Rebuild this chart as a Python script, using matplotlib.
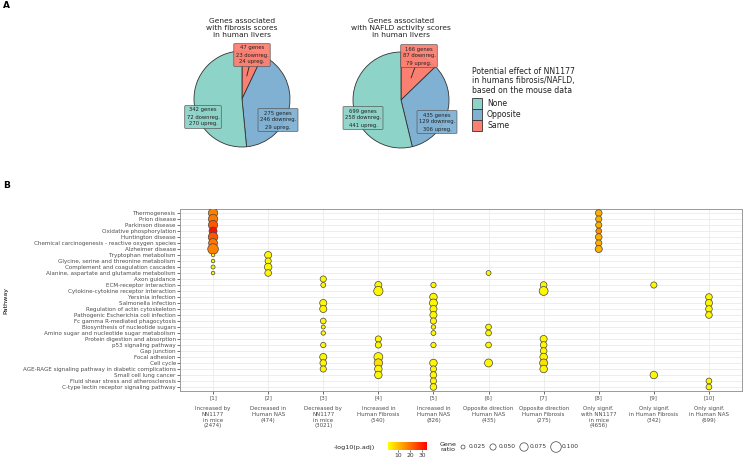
import numpy as np
import matplotlib
matplotlib.use("Agg")
import matplotlib.pyplot as plt
from matplotlib.colors import LinearSegmentedColormap
from matplotlib.patches import Rectangle

# ---- panel A data ----
effects = ["None", "Opposite", "Same"]
effect_colors = ["#8DD3C7", "#80B1D3", "#FB8072"]
fib_genes = [342, 275, 47]
fib_down = [72, 246, 23]
fib_up = [270, 29, 24]
nas_genes = [699, 435, 166]
nas_down = [258, 129, 87]
nas_up = [441, 306, 79]

# ---- panel B data ----
pathways = [
    "Thermogenesis", "Prion disease", "Parkinson disease", "Oxidative phosphorylation",
    "Huntington disease", "Chemical carcinogenesis - reactive oxygen species",
    "Alzheimer disease", "Tryptophan metabolism", "Glycine, serine and threonine metabolism",
    "Complement and coagulation cascades", "Alanine, aspartate and glutamate metabolism",
    "Axon guidance", "ECM-receptor interaction", "Cytokine-cytokine receptor interaction",
    "Yersinia infection", "Salmonella infection", "Regulation of actin cytoskeleton",
    "Pathogenic Escherichia coli infection", "Fc gamma R-mediated phagocytosis",
    "Biosynthesis of nucleotide sugars", "Amino sugar and nucleotide sugar metabolism",
    "Protein digestion and absorption", "p53 signaling pathway", "Gap junction",
    "Focal adhesion", "Cell cycle", "AGE-RAGE signaling pathway in diabetic complications",
    "Small cell lung cancer", "Fluid shear stress and atherosclerosis",
    "C-type lectin receptor signaling pathway",
]
group_labels = [
    "[1]\n\nIncreased by\nNN1177\nin mice\n(2474)",
    "[2]\n\nDecreased in\nHuman NAS\n(474)",
    "[3]\n\nDecreased by\nNN1177\nin mice\n(3021)",
    "[4]\n\nIncreased in\nHuman Fibrosis\n(540)",
    "[5]\n\nIncreased in\nHuman NAS\n(826)",
    "[6]\n\nOpposite direction\nHuman NAS\n(435)",
    "[7]\n\nOpposite direction\nHuman Fibrosis\n(275)",
    "[8]\n\nOnly signif.\nwith NN1177\nin mice\n(4656)",
    "[9]\n\nOnly signif.\nin Human Fibrosis\n(342)",
    "[10]\n\nOnly signif.\nin Human NAS\n(699)",
]

# group number, pathway row (1-based), gene ratio, -log10(p.adj)
dot_group = ([1] * 11 + [2] * 4 + [3] * 11 + [4] * 8 + [5] * 14 + [6] * 5
             + [7] * 8 + [8] * 7 + [9] * 2 + [10] * 6)
dot_row = ([1, 2, 3, 4, 5, 6, 7, 8, 9, 10, 11]
           + [8, 9, 10, 11]
           + [12, 13, 16, 17, 19, 20, 21, 23, 25, 26, 27]
           + [13, 14, 22, 23, 25, 26, 27, 28]
           + [13, 15, 16, 17, 18, 19, 20, 21, 23, 26, 27, 28, 29, 30]
           + [11, 20, 21, 23, 26]
           + [13, 14, 22, 23, 24, 25, 26, 27]
           + [1, 2, 3, 4, 5, 6, 7]
           + [13, 28]
           + [15, 16, 17, 18, 29, 30])
dot_ratio = ([0.085, 0.085, 0.085, 0.07, 0.088, 0.08, 0.1, 0.02, 0.02, 0.025, 0.02]
             + [0.06, 0.05, 0.065, 0.055]
             + [0.05, 0.035, 0.06, 0.06, 0.045, 0.025, 0.03, 0.04, 0.06, 0.055, 0.05]
             + [0.06, 0.085, 0.05, 0.05, 0.08, 0.075, 0.065, 0.065]
             + [0.04, 0.065, 0.07, 0.06, 0.06, 0.05, 0.03, 0.035, 0.04, 0.065, 0.05,
                0.055, 0.05, 0.055]
             + [0.035, 0.045, 0.045, 0.045, 0.07]
             + [0.055, 0.08, 0.06, 0.055, 0.055, 0.065, 0.07, 0.065]
             + [0.055, 0.05, 0.05, 0.045, 0.055, 0.05, 0.06]
             + [0.05, 0.065]
             + [0.055, 0.06, 0.055, 0.055, 0.045, 0.045])
dot_logp = ([18, 19, 23, 32, 23, 19, 18, 3, 3, 3, 3]
            + [3, 3, 3, 3]
            + [3, 3, 3, 3, 3, 3, 3, 3, 3, 3, 3]
            + [3, 3, 3, 3, 3, 6, 3, 3]
            + [3, 3, 3, 3, 3, 3, 3, 3, 3, 3, 3, 3, 3, 3]
            + [3, 3, 3, 3, 3]
            + [3, 3, 3, 3, 3, 3, 6, 3]
            + [12, 12, 12, 16, 12, 12, 12]
            + [3, 3]
            + [3, 3, 3, 3, 3, 3])
legend_ratios = [0.025, 0.05, 0.075, 0.1]

W, H = 745, 459
fig = plt.figure(figsize=(W / 100, H / 100), dpi=100)


def box(x0, y0, x1, y1):
    # pixel box (top-left origin) -> figure fraction rect
    return [x0 / W, 1 - y1 / H, (x1 - x0) / W, (y1 - y0) / H]


def dot_size(r):
    d_px = 1.8 + 88 * np.asarray(r)
    return (d_px * 0.72) ** 2


over = fig.add_axes([0, 0, 1, 1])
over.set_xlim(0, W)
over.set_ylim(H, 0)
over.axis("off")
over.set_zorder(10)

over.text(3, 6, "A", fontsize=6.5, fontweight="bold", va="center")
over.text(3, 186, "B", fontsize=6.5, fontweight="bold", va="center")

# ---- panel A: pies ----
pies = [
    (242, 99, "Genes associated\nwith fibrosis scores\nin human livers",
     fib_genes, fib_down, fib_up,
     [(203, 117), (278, 120), (252, 55)], (0.10, 0.48)),
    (401, 100, "Genes associated\nwith NAFLD activity scores\nin human livers",
     nas_genes, nas_down, nas_up,
     [(363, 118), (437, 122), (419, 56)], (0.21, 0.46)),
]
R = 48
for cx, cy, title, genes, down, up, lab_pos, same_pt in pies:
    pax = fig.add_axes(box(cx - R, cy - R, cx + R, cy + R))
    pax.pie(genes[::-1], colors=effect_colors[::-1], startangle=90, counterclock=False,
            radius=1, wedgeprops=dict(edgecolor="#333333", linewidth=0.6))
    pax.set_xlim(-1, 1)
    pax.set_ylim(-1, 1)
    pax.axis("off")
    over.text(cx, 28, title, ha="center", va="center", fontsize=5.4, linespacing=1.15,
              color="#222222")
    for i in range(3):
        txt = f"{genes[i]} genes\n{down[i]} downreg.\n{up[i]} upreg."
        bb = dict(boxstyle="round,pad=0.35,rounding_size=0.15", fc=effect_colors[i],
                  ec="#555555", lw=0.5, alpha=0.95)
        lx, ly = lab_pos[i]
        if effects[i] == "Same":
            # line from the label box into the "Same" wedge
            px = cx + same_pt[0] * R
            py = cy - same_pt[1] * R
            over.annotate(txt, xy=(px, py), xytext=(lx, ly),
                          ha="center", va="center",
                          fontsize=3.8, linespacing=1.5, color="#222222", bbox=bb,
                          arrowprops=dict(arrowstyle="-", lw=0.6, color="#222222",
                                          shrinkA=0, shrinkB=0))
        else:
            over.text(lx, ly, txt, ha="center", va="center", fontsize=3.8,
                      linespacing=1.5, color="#222222", bbox=bb)

over.text(472, 81, "Potential effect of NN1177\nin humans fibrosis/NAFLD,\nbased on the mouse data",
          ha="left", va="center", fontsize=5.6, linespacing=1.1, color="#222222")
for i, eff in enumerate(effects):
    y0 = 98 + i * 11.2
    over.add_patch(Rectangle((472, y0), 10, 10.5, fc=effect_colors[i], ec="#333333", lw=0.6))
    over.text(487, y0 + 5.3, eff, ha="left", va="center", fontsize=5.6, color="#222222")

# ---- panel B: dot plot ----
cmap = LinearSegmentedColormap.from_list("yr", ["#FFFF00", "#FF8000", "#FF0000"])
ax = fig.add_axes(box(180, 209, 742, 391))
sc = ax.scatter(dot_group, dot_row, s=dot_size(dot_ratio), c=dot_logp, cmap=cmap,
                vmin=2, vmax=34, edgecolors="#444444", linewidths=0.5, zorder=3)
ax.set_xlim(0.4, 10.6)
ax.set_ylim(30.67, 0.33)
ax.set_yticks(range(1, 31))
ax.set_yticklabels(pathways, fontsize=4.1, color="#4D4D4D")
ax.set_xticks(range(1, 11))
ax.set_xticklabels(group_labels, fontsize=4, color="#4D4D4D", linespacing=1.15)
ax.grid(True, color="#EBEBEB", lw=0.6)
ax.set_axisbelow(True)
ax.tick_params(length=2, width=0.5, color="#333333", pad=1)
for sp in ax.spines.values():
    sp.set_color("#9A9A9A")
    sp.set_linewidth(0.7)
ax.set_ylabel("Pathway", fontsize=4.6, labelpad=4)
ax.yaxis.set_label_coords(-172 / 562, 0.5)

# legends under panel B
over.text(375, 448, "-log10(p.adj)", ha="right", va="center", fontsize=4.6, color="#222222")
cax = fig.add_axes(box(388, 442, 427, 450))
cb = fig.colorbar(sc, cax=cax, orientation="horizontal")
cb.set_ticks([10, 20, 30])
cb.ax.tick_params(labelsize=4.3, length=1.5, width=0.5, pad=1, colors="#333333")
cb.outline.set_visible(False)

over.text(440, 447, "Gene\nratio", ha="left", va="center", fontsize=4.6, linespacing=1.1,
          color="#222222")
leg_x = [463, 493, 524, 556]
over.scatter(leg_x, [447] * 4, s=dot_size(legend_ratios), fc="white", ec="#444444", lw=0.5)
for x, r in zip(leg_x, legend_ratios):
    over.text(x + 6, 447, f"{r:.3f}", ha="left", va="center", fontsize=4.3, color="#333333")

fig.savefig("out.png", dpi=100)
